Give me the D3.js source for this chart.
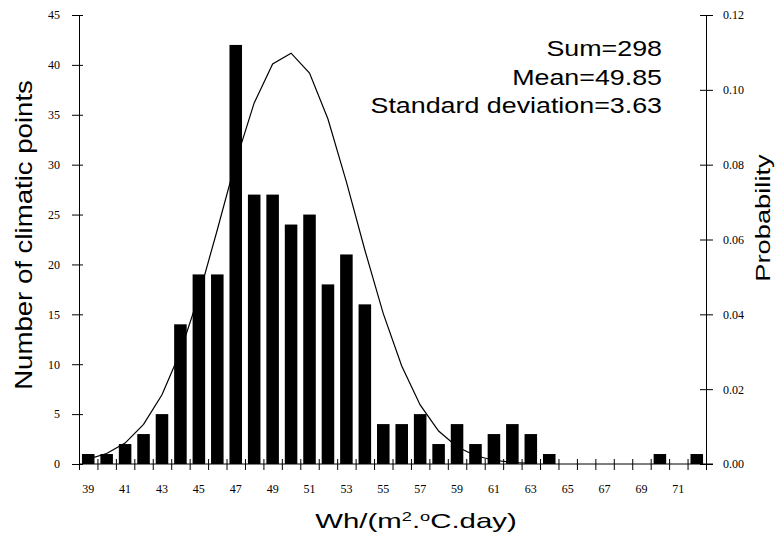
<!DOCTYPE html>
<html>
<head>
<meta charset="utf-8">
<script src="https://cdn.jsdelivr.net/npm/d3@7"></script>
<style>
  body { margin: 0; background: #fff; }
  svg { display: block; }
  .tick text { font-family: "Liberation Serif", "Times New Roman", serif; font-size: 12px; fill: #000; }
  .title { font-family: "Liberation Sans", Arial, sans-serif; fill: #000; }
</style>
</head>
<body>
<div id="chart"></div>
<script>
// histogram bins (Wh/(m2.C.day)) and counts
var bins = d3.range(39, 73);
var counts = [1, 1, 2, 3, 5, 14, 19, 19, 42, 27, 27, 24, 25, 18, 21, 16, 4, 4, 5, 2, 4, 2, 3, 4, 3, 1, 0, 0, 0, 0, 0, 1, 0, 1];
var binLabels = [39, 41, 43, 45, 47, 49, 51, 53, 55, 57, 59, 61, 63, 65, 67, 69, 71];

// fitted curve
var curveX = [39, 40, 41, 42, 43, 44, 45, 46, 47, 48, 49, 50, 51, 52, 53, 54, 55, 56, 57, 58, 59, 60, 61, 62, 63];
var curveP = [0.0013, 0.0028, 0.0056, 0.0106, 0.0185, 0.0300, 0.0450, 0.0626, 0.0808, 0.0965, 0.1069, 0.1098, 0.1045, 0.0922, 0.0754, 0.0572, 0.0402, 0.0262, 0.0158, 0.0088, 0.0046, 0.0022, 0.0010, 0.0004, 0.0002];

var countTicks = [0, 5, 10, 15, 20, 25, 30, 35, 40, 45];
var probTicks = [0, 0.02, 0.04, 0.06, 0.08, 0.10, 0.12];
var notes = ["Sum=298", "Mean=49.85", "Standard deviation=3.63"];

var W = 777, H = 536;
var mLeft = 79, mRight = 706, mTop = 15, mBottom = 464;

var svg = d3.select("#chart").append("svg")
	.attr("width", W)
	.attr("height", H);

var x = d3.scaleBand()
	.domain(bins)
	.range([mLeft, mRight])
	.paddingInner(0.32)
	.paddingOuter(0.16);

var xEdge = d3.scaleLinear()
	.domain([38.5, 72.5])
	.range([mLeft, mRight]);

var y = d3.scaleLinear().domain([0, 45]).range([mBottom, mTop]);
var yP = d3.scaleLinear().domain([0, 0.12]).range([mBottom, mTop]);

// bars
svg.append("g")
	.selectAll("rect")
	.data(bins.map(function(b, i) { return {b: b, c: counts[i]}; }).filter(function(d) { return d.c > 0; }))
	.join("rect")
	.attr("x", function(d) { return x(d.b); })
	.attr("width", x.bandwidth())
	.attr("y", function(d) { return y(d.c); })
	.attr("height", function(d) { return y(0) - y(d.c); })
	.attr("fill", "#000");

// curve
svg.append("path")
	.datum(curveX.map(function(v, i) { return [v, curveP[i]]; }))
	.attr("fill", "none")
	.attr("stroke", "#000")
	.attr("stroke-width", 1.2)
	.attr("d", d3.line()
		.x(function(d) { return x(d[0]) + x.bandwidth() / 2; })
		.y(function(d) { return yP(d[1]); }));

// left axis
var gl = svg.append("g")
	.attr("transform", "translate(" + mLeft + ",0)")
	.call(d3.axisLeft(y).tickValues(countTicks).tickSize(7).tickPadding(12));
gl.selectAll(".tick line").attr("x2", -7).attr("x1", 4);

// right axis
var gr = svg.append("g")
	.attr("transform", "translate(" + mRight + ",0)")
	.call(d3.axisRight(yP).tickValues(probTicks).tickSize(7).tickPadding(10).tickFormat(d3.format(".2f")));
gr.selectAll(".tick line").attr("x1", -6);

// bottom axis: edge ticks
var gb = svg.append("g")
	.attr("transform", "translate(0," + mBottom + ")")
	.call(d3.axisBottom(xEdge).tickValues(d3.range(38.5, 73, 1)).tickSize(6).tickFormat(""));
gb.selectAll(".tick line").attr("y1", -5);
gb.select(".domain").attr("d", "M" + mLeft + ",0H" + (mRight + 7));

// bottom labels
var gbl = svg.append("g")
	.attr("transform", "translate(0," + mBottom + ")")
	.call(d3.axisBottom(x).tickValues(binLabels).tickSize(0).tickPadding(20));
gbl.select(".domain").remove();

svg.selectAll(".domain").attr("stroke", "#000");
svg.selectAll(".tick line").attr("stroke", "#000");

// titles
svg.append("text")
	.attr("class", "title")
	.attr("transform", "translate(32,235) rotate(-90) scale(1.2,1)")
	.attr("text-anchor", "middle")
	.style("font-size", "23px")
	.text("Number of climatic points");

svg.append("text")
	.attr("class", "title")
	.attr("transform", "translate(770,218) rotate(-90) scale(1.3,1)")
	.attr("text-anchor", "middle")
	.style("font-size", "21px")
	.text("Probability");

var xt = svg.append("text")
	.attr("class", "title")
	.attr("transform", "translate(416,528) scale(1.4,1)")
	.attr("text-anchor", "middle")
	.style("font-size", "21px");
xt.append("tspan").text("Wh/(m");
xt.append("tspan").attr("dy", -7).style("font-size", "13px").text("2");
xt.append("tspan").attr("dy", 7).text(".");
xt.append("tspan").attr("dy", -7).style("font-size", "13px").text("o");
xt.append("tspan").attr("dy", 7).text("C.day)");

svg.append("g")
	.selectAll("text")
	.data(notes)
	.join("text")
	.attr("class", "title")
	.attr("transform", function(d, i) { return "translate(662," + (56 + i * 28.5) + ") scale(1.22,1)"; })
	.attr("text-anchor", "end")
	.style("font-size", "22px")
	.text(function(d) { return d; });
</script>
</body>
</html>
